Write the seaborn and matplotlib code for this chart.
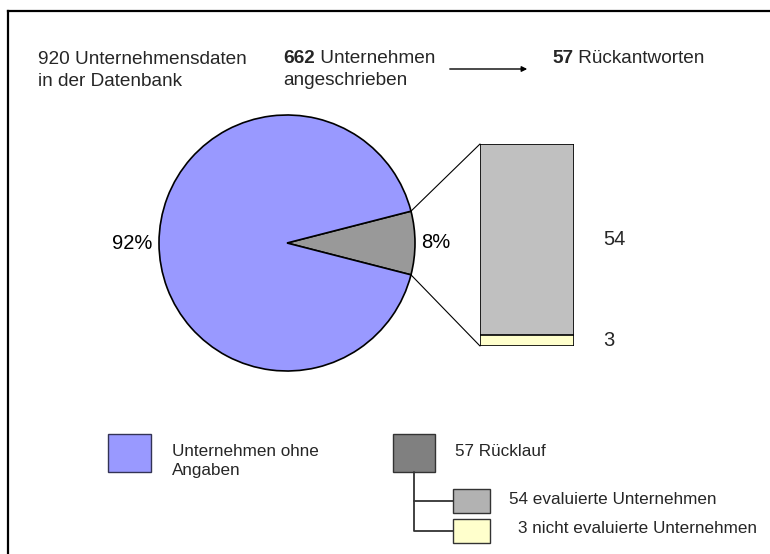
import numpy as np
import matplotlib
matplotlib.use("Agg")
import matplotlib.pyplot as plt
from matplotlib.patches import Rectangle, ConnectionPatch
import seaborn as sns

# data
pie_labels = ["Rücklauf", "Unternehmen ohne Angaben"]
pie_shares = [8, 92]  # percent
bar_labels = ["evaluierte Unternehmen", "nicht evaluierte Unternehmen"]
bar_values = [54, 3]
n_database = 920
n_contacted = 662
n_answers = 57

# colours
c_blue = "#9999FF"
c_pie_gray = "#999999"
c_bar_gray = "#C0C0C0"
c_yellow = "#FFFFCC"
c_legend_dark = "#808080"
c_legend_light = "#B2B2B2"

sns.set_theme(style="white")
plt.rcParams["font.family"] = ["Liberation Sans", "DejaVu Sans"]

W, H = 770, 554
fig = plt.figure(figsize=(W / 100, H / 100), dpi=100)
fig.patch.set_facecolor("white")


def fig_box(x0, y0, x1, y1):
    """pixel box (y downwards) -> figure fraction rect"""
    return [x0 / W, (H - y1) / H, (x1 - x0) / W, (y1 - y0) / H]


# background axes in pixel coordinates for frame, texts and legend
bg = fig.add_axes([0, 0, 1, 1])
bg.set_xlim(0, W)
bg.set_ylim(H, 0)
bg.axis("off")

bg.plot([7.5, 7.5], [H + 5, 11], color="black", lw=1.6, solid_capstyle="projecting")
bg.plot([7.5, W + 5], [11, 11], color="black", lw=1.6, solid_capstyle="projecting")

top_fs = 13.7
bg.text(38, 64, f"{n_database} Unternehmensdaten", fontsize=top_fs, va="baseline")
bg.text(38, 86, "in der Datenbank", fontsize=top_fs, va="baseline")
t = bg.text(283, 63, f"{n_contacted}", fontsize=top_fs, fontweight="bold", va="baseline")
bg.annotate(" Unternehmen", xy=(1, 0), xycoords=t, fontsize=top_fs, va="bottom")
bg.text(283, 85, "angeschrieben", fontsize=top_fs, va="baseline")
bg.annotate("", xy=(530, 69), xytext=(447, 69),
            arrowprops=dict(arrowstyle="-|>", color="black", lw=1, mutation_scale=8))
t2 = bg.text(552, 63, f"{n_answers}", fontsize=top_fs, fontweight="bold", va="baseline")
bg.annotate(" Rückantworten", xy=(1, 0), xycoords=t2, fontsize=top_fs, va="bottom")

# pie
ax_pie = fig.add_axes(fig_box(159, 115, 415, 371))
start = -pie_shares[0] * 3.6 / 2
wedges, texts = ax_pie.pie(
    pie_shares, colors=[c_pie_gray, c_blue], startangle=start, counterclock=True,
    labels=[f"{s}%" for s in pie_shares], labeldistance=1.05,
    wedgeprops=dict(edgecolor="black", linewidth=1.2),
    textprops=dict(fontsize=14.5, color="black"))
ax_pie.set_xlim(-1, 1)
ax_pie.set_ylim(-1, 1)
ax_pie.axis("off")

# stacked bar of the returned answers
ax_bar = fig.add_axes(fig_box(480, 144, 574, 346))
total = sum(bar_values)
sns.barplot(x=[0], y=[total], color=c_bar_gray, width=1, saturation=1,
            edgecolor="black", linewidth=1.2, ax=ax_bar)
sns.barplot(x=[0], y=[bar_values[1]], color=c_yellow, width=1, saturation=1,
            edgecolor="black", linewidth=1.2, ax=ax_bar)
ax_bar.set_xlim(-0.5, 0.5)
ax_bar.set_ylim(0, total)
ax_bar.axis("off")
for v, yc in [(bar_values[0], bar_values[1] + bar_values[0] / 2),
              (bar_values[1], bar_values[1] / 2)]:
    ax_bar.annotate(str(v), xy=(0.5, yc), xytext=(29, 0), textcoords="offset pixels",
                    fontsize=14.5, va="center", ha="left", annotation_clip=False)

# connector lines from the gray slice to the bar
w = wedges[0]
for ang, ybar in [(w.theta2, total), (w.theta1, 0)]:
    p = (np.cos(np.radians(ang)), np.sin(np.radians(ang)))
    con = ConnectionPatch(xyA=p, coordsA=ax_pie.transData,
                          xyB=(-0.5, ybar), coordsB=ax_bar.transData,
                          color="black", lw=0.8)
    fig.add_artist(con)

# legend
leg_fs = 12.3
bg.add_patch(Rectangle((108, 434), 43, 38, facecolor=c_blue, edgecolor="#333355", lw=1))
bg.text(172, 456, "Unternehmen ohne", fontsize=leg_fs, va="baseline")
bg.text(172, 475, "Angaben", fontsize=leg_fs, va="baseline")

bg.add_patch(Rectangle((393, 434), 42, 38, facecolor=c_legend_dark, edgecolor="#333333", lw=1))
bg.text(455, 456, f"{n_answers} {pie_labels[0]}", fontsize=leg_fs, va="baseline")
bg.plot([414, 414, 453], [472, 531, 531], color="#333333", lw=1.3)
bg.plot([414, 453], [501, 501], color="#333333", lw=1.3)
bg.add_patch(Rectangle((453, 489), 37, 24, facecolor=c_legend_light, edgecolor="#333333", lw=1))
bg.add_patch(Rectangle((453, 519), 37, 24, facecolor=c_yellow, edgecolor="#333333", lw=1))
bg.text(509, 504, f"{bar_values[0]} {bar_labels[0]}", fontsize=leg_fs, va="baseline")
bg.text(518, 533, f"{bar_values[1]} {bar_labels[1]}", fontsize=leg_fs, va="baseline")

fig.savefig("out.png", dpi=100, facecolor="white")
